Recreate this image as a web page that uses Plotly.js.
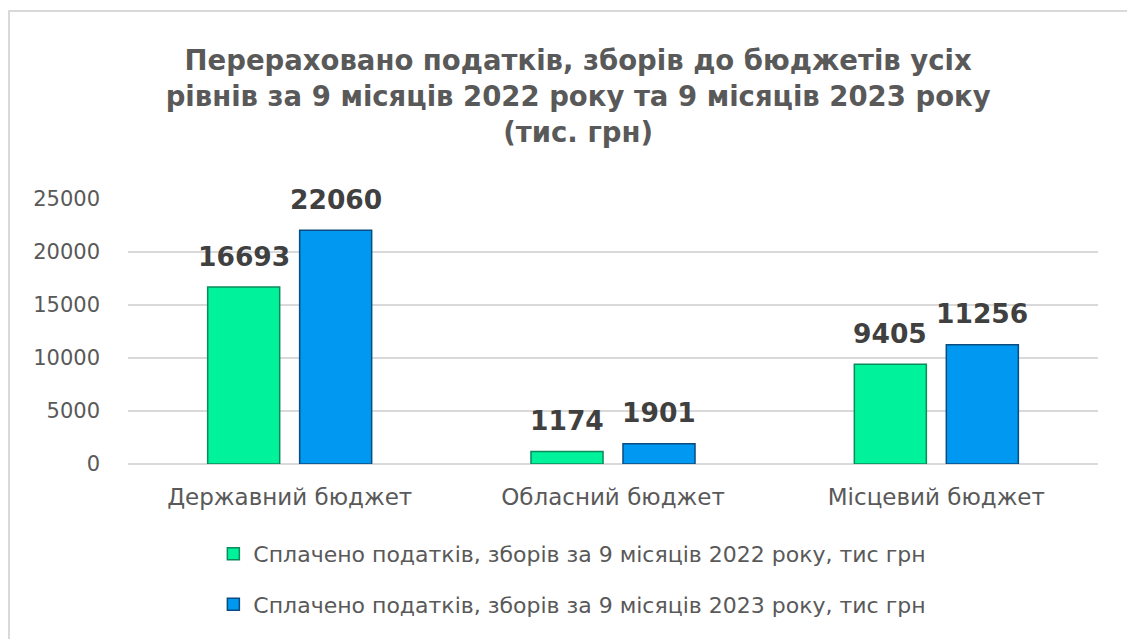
<!DOCTYPE html>
<html>
<head>
<meta charset="utf-8">
<script src="https://cdn.plot.ly/plotly-3.0.1.min.js"></script>
<style>
html,body{margin:0;padding:0;background:#fff;overflow:hidden;}
#wrap{position:relative;width:1127px;height:639px;overflow:hidden;}
#chart{position:absolute;left:0;top:0;width:1127px;height:639px;}
#frame{position:absolute;left:8px;top:10px;width:1119px;height:629px;border-left:2px solid #d9d9d9;border-top:2px solid #d9d9d9;pointer-events:none;box-sizing:border-box;}
</style>
</head>
<body>
<div id="wrap">
<div id="chart"></div>
<div id="frame"></div>
</div>
<script>
const categories = ["Державний бюджет", "Обласний бюджет", "Місцевий бюджет"];
const series2022 = [16693, 1174, 9405];
const series2023 = [22060, 1901, 11256];
const seriesNames = [
  "Сплачено податків, зборів за 9 місяців 2022 року, тис грн",
  "Сплачено податків, зборів за 9 місяців 2023 року, тис грн"
];
const yTicks = [0, 5000, 10000, 15000, 20000, 25000];

const W = 1127, H = 639;
const margin = {l: 128, r: 29, t: 199, b: 175, autoexpand: false};
const bargap = 0.431, bargroupgap = 0.217;

const traces = [
  {
    type: "bar", x: categories, y: series2022, name: seriesNames[0],
    legendgroup: "a",
    marker: {color: "#00F29A", line: {color: "#0B8A5A", width: 1.5}}
  },
  {
    type: "bar", x: categories, y: series2023, name: seriesNames[1],
    legendgroup: "b",
    marker: {color: "#0098F0", line: {color: "#0B4C80", width: 1.5}}
  }
];

// value labels placed above each bar, offset to the bar's slot within its group
const catPx = (W - margin.l - margin.r) / categories.length;
const slotPx = catPx * (1 - bargap) / 2;
const labelFont = {family: "DejaVu Sans", size: 26.5, color: "#404040", weight: "bold"};
const annotations = [];
[series2022, series2023].forEach((vals, si) => {
  vals.forEach((v, i) => {
    annotations.push({
      x: categories[i], y: v, xref: "x", yref: "y",
      text: String(v), showarrow: false,
      xanchor: "center", yanchor: "middle",
      xshift: (si === 0 ? -1 : 1) * slotPx / 2,
      yshift: 31,
      font: labelFont
    });
  });
});

const layout = {
  width: W, height: H,
  margin: margin,
  paper_bgcolor: "#ffffff", plot_bgcolor: "#ffffff",
  barmode: "group", bargap: bargap, bargroupgap: bargroupgap,
  title: {
    text: "Перераховано податків, зборів до бюджетів усіх<br>рівнів за 9 місяців 2022 року та 9 місяців 2023 року<br>(тис. грн)",
    font: {family: "DejaVu Sans", size: 27.5, color: "#595959", weight: "bold"},
    x: 0.513, xanchor: "center", xref: "container",
    y: 0.89, yanchor: "middle", yref: "container"
  },
  xaxis: {
    showgrid: false, zeroline: false, showline: false, automargin: false,
    tickfont: {family: "DejaVu Sans", size: 23, color: "#595959"},
    ticks: "", ticklabelstandoff: 17
  },
  yaxis: {
    range: [0, 25000], tickvals: yTicks, ticktext: yTicks.map(String),
    automargin: false,
    showgrid: true, gridcolor: "#d9d9d9", gridwidth: 1.5,
    zeroline: true, zerolinecolor: "#d9d9d9", zerolinewidth: 1.5,
    showline: false, ticks: "",
    tickfont: {family: "DejaVu Sans", size: 21, color: "#595959"},
    ticklabelstandoff: 27
  },
  annotations: annotations,
  showlegend: true,
  legend: {
    orientation: "v", x: 0.088, xanchor: "left", y: -0.26, yanchor: "top",
    font: {family: "DejaVu Sans", size: 22, color: "#595959"},
    tracegroupgap: 19, itemwidth: 30, bgcolor: "rgba(0,0,0,0)"
  }
};

Plotly.newPlot("chart", traces, layout, {displayModeBar: false, staticPlot: true});
</script>
</body>
</html>
